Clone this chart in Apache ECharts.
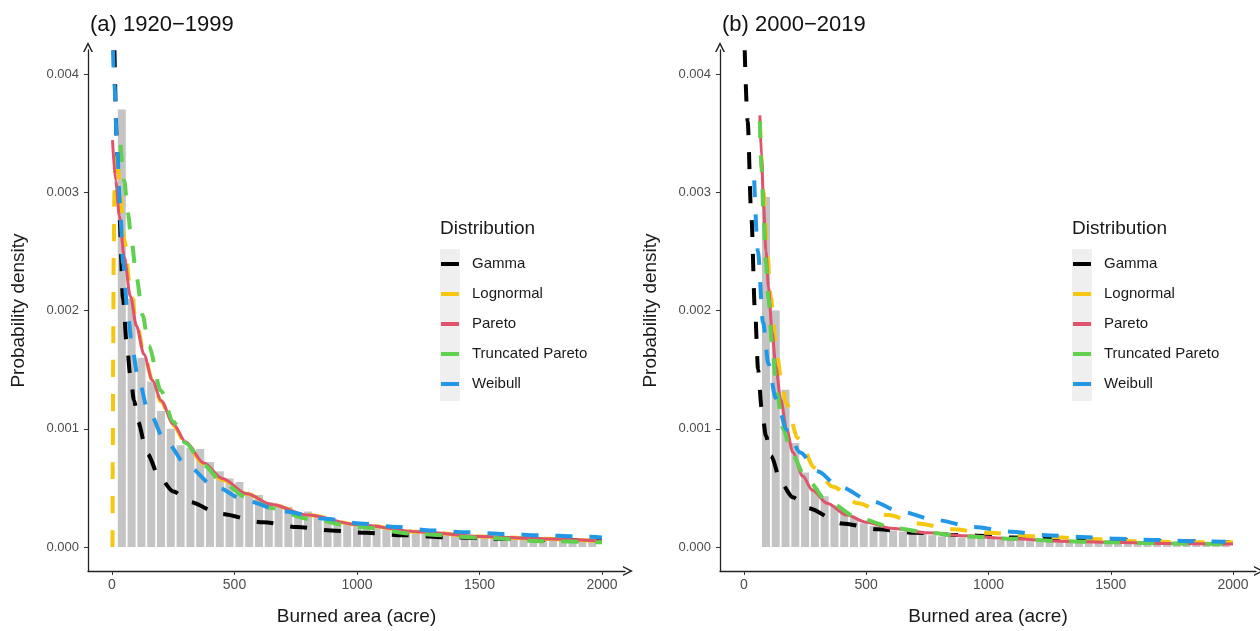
<!DOCTYPE html>
<html>
<head>
<meta charset="utf-8">
<script src="https://cdn.jsdelivr.net/npm/echarts@6/dist/echarts.min.js"></script>
<style>
  html, body { margin: 0; padding: 0; background: #fff; }
  #chart { width: 1260px; height: 631px; }
</style>
</head>
<body>
<div id="chart"></div>
<script>
// histogram bin centres (acre) and densities
const binsA = [40, 80, 120, 160, 200, 240, 280, 320, 360, 400, 440, 480, 520, 560, 600, 640, 680, 720, 760, 800,
  840, 880, 920, 960, 1000, 1040, 1080, 1120, 1160, 1200, 1240, 1280, 1320, 1360, 1400, 1440, 1480, 1520, 1560, 1600,
  1640, 1680, 1720, 1760, 1800, 1840, 1880, 1920, 1960];
const histA = [0.0037, 0.0021, 0.0016, 0.0014, 0.00115, 0.0010, 0.00086, 0.00084, 0.00083, 0.00072,
  0.00064, 0.00058, 0.00055, 0.00046, 0.00044, 0.00038, 0.00036, 0.00034, 0.00027, 0.0003,
  0.00025, 0.00024, 0.00022, 0.0002, 0.00019, 0.00017, 0.00016, 0.00015, 0.00014, 0.00013,
  0.00012, 0.00012, 0.00011, 0.0001, 0.0001, 0.00009, 0.00009, 0.00008, 0.00008, 0.00007,
  0.00007, 0.00007, 0.00006, 0.00006, 0.00006, 0.00005, 0.00005, 0.00005, 0.00005];
const binsB = [90, 130, 170, 210, 250, 290, 330, 370, 410, 450, 490, 530, 570, 610, 650, 690, 730, 770, 810, 850,
  890, 930, 970, 1010, 1050, 1090, 1130, 1170, 1210, 1250, 1290, 1330, 1370, 1410, 1450, 1490, 1530, 1570, 1610, 1650,
  1690, 1730, 1770, 1810, 1850, 1890, 1930, 1970];
const histB = [0.00296, 0.0020, 0.00133, 0.00088, 0.00063, 0.0005, 0.00043, 0.00035, 0.0003, 0.00025,
  0.0002, 0.00018, 0.00016, 0.00014, 0.00013, 0.00012, 0.00011, 0.0001, 0.00009, 0.00009,
  0.00008, 0.00008, 0.00007, 0.00007, 0.00006, 0.00006, 0.00006, 0.00005, 0.00005, 0.00005,
  0.00005, 0.00004, 0.00004, 0.00004, 0.00004, 0.00004, 0.00003, 0.00003, 0.00003, 0.00003,
  0.00003, 0.00003, 0.00003, 0.00002, 0.00002, 0.00002, 0.00002, 0.00002];

// fitted densities, panel (a) 1920-1999, [acre, density]
const gammaA = [[10, 0.0042], [20, 0.0034], [30, 0.0028], [45, 0.0021], [60, 0.00172], [75, 0.00145], [90, 0.00124],
  [106, 0.00106], [143, 0.00079], [196, 0.00058], [250, 0.00047], [318, 0.00038], [441, 0.00028], [616, 0.00021],
  [755, 0.00017], [894, 0.00014], [1041, 0.00012], [1188, 0.0001], [1400, 0.00008], [1600, 0.00007], [1800, 0.00006],
  [2000, 0.00005]];
const lognormA = [[2, 0], [3, 0.0007], [5, 0.0017], [7, 0.0025], [10, 0.003], [14, 0.0033], [20, 0.00335], [30, 0.0031],
  [50, 0.0026], [75, 0.00218], [100, 0.0019], [130, 0.00164], [165, 0.00141], [200, 0.00123], [250, 0.00103],
  [300, 0.00088], [375, 0.0007], [450, 0.00057], [550, 0.00045], [650, 0.00036], [800, 0.00027], [1000, 0.00019],
  [1250, 0.00013], [1500, 0.00009], [1750, 0.00007], [2000, 0.00005]];
const paretoA = [[2, 0.00344], [15, 0.0031], [30, 0.0028], [50, 0.00245], [75, 0.00212], [100, 0.00187], [130, 0.00163],
  [165, 0.00141], [200, 0.00124], [250, 0.00104], [300, 0.00089], [375, 0.00071], [450, 0.00058], [550, 0.00045],
  [650, 0.00036], [800, 0.00027], [1000, 0.00019], [1250, 0.00013], [1500, 0.00009], [1750, 0.00007], [2000, 0.00005]];
const truncA = [[35, 0.0034], [50, 0.0031], [65, 0.00282], [80, 0.00258], [100, 0.00228], [125, 0.00196], [150, 0.0017],
  [200, 0.00132], [250, 0.00106], [300, 0.00088], [375, 0.00069], [450, 0.00055], [550, 0.00042], [650, 0.00033],
  [800, 0.00024], [1000, 0.00017], [1250, 0.00011], [1500, 0.00008], [1750, 0.00005], [2000, 0.00004]];
const weibullA = [[4, 0.0042], [10, 0.0039], [20, 0.0034], [33, 0.0029], [45, 0.0024], [65, 0.00195], [85, 0.00165],
  [106, 0.00143], [150, 0.00114], [220, 0.00089], [310, 0.00068], [420, 0.00051], [550, 0.00039], [700, 0.0003],
  [870, 0.00024], [1010, 0.0002], [1160, 0.00017], [1310, 0.00014], [1450, 0.000125], [1600, 0.00011], [1750, 0.0001],
  [1900, 0.00009], [2000, 0.00008]];

// fitted densities, panel (b) 2000-2019
const gammaB = [[3, 0.0042], [15, 0.0036], [30, 0.0028], [45, 0.002], [58, 0.0015], [72, 0.00118], [90, 0.00094],
  [110, 0.00077], [155, 0.00053], [200, 0.00042], [260, 0.00033], [400, 0.0002], [550, 0.00015], [700, 0.00012],
  [900, 0.0001], [1100, 0.00008], [1300, 0.00007], [1500, 0.00006], [1700, 0.00005], [2000, 0.00004]];
const lognormB = [[65, 0.0036], [80, 0.003], [95, 0.0025], [110, 0.00211], [130, 0.00172], [150, 0.00145], [172, 0.00122],
  [221, 0.00092], [290, 0.00067], [364, 0.00051], [466, 0.00037], [589, 0.00027], [712, 0.0002], [850, 0.00015],
  [1000, 0.00012], [1200, 0.00009], [1400, 0.00007], [1600, 0.00005], [1800, 0.00004], [2000, 0.00004]];
const paretoB = [[65, 0.00365], [72, 0.0033], [80, 0.0029], [90, 0.0025], [100, 0.0022], [115, 0.00182], [130, 0.00153],
  [150, 0.00125], [175, 0.00099], [200, 0.0008], [240, 0.0006], [280, 0.00048], [340, 0.00037], [420, 0.00027],
  [500, 0.00021], [600, 0.00016], [750, 0.00012], [900, 0.000095], [1100, 0.00007], [1300, 0.00005], [1500, 0.00004],
  [1750, 0.00003], [2000, 0.000025]];
const truncB = [[65, 0.0036], [72, 0.0032], [80, 0.0028], [90, 0.0024], [100, 0.0021], [115, 0.0017], [135, 0.0013],
  [160, 0.001], [196, 0.00078], [258, 0.00057], [344, 0.00038], [474, 0.00024], [618, 0.00016], [760, 0.00012],
  [900, 0.00009], [1100, 0.00007], [1300, 0.00005], [1500, 0.00004], [1750, 0.00003], [2000, 0.000025]];
const weibullB = [[42, 0.0031], [57, 0.0025], [78, 0.0019], [100, 0.00155], [130, 0.00126], [176, 0.00099], [230, 0.0008],
  [300, 0.00064], [390, 0.00051], [520, 0.00039], [640, 0.0003], [780, 0.00023], [940, 0.00017], [1090, 0.00013],
  [1235, 0.0001], [1380, 0.000085], [1530, 0.00007], [1680, 0.00006], [1820, 0.00005], [1970, 0.000045]];

const distNames = ["Gamma", "Lognormal", "Pareto", "Truncated Pareto", "Weibull"];
const distColors = ["#000000", "#F5C710", "#DF536B", "#61D04F", "#2297E6"];
const xTicks = [0, 500, 1000, 1500, 2000];
const yTicks = [0, 0.001, 0.002, 0.003, 0.004];

const font = "'Liberation Sans', Arial, Helvetica, sans-serif";
const arrow = "path://M0,10 L5,0 L10,10 L8.4,10 L5,3.2 L1.6,10 Z";

const chart = echarts.init(document.getElementById("chart"));

function xAxisFor(idx) {
  return {
    type: "value", gridIndex: idx, min: -98, max: 2094,
    name: "Burned area (acre)", nameLocation: "middle", nameGap: 36,
    nameTextStyle: { fontFamily: font, fontSize: 19, color: "#1a1a1a" },
    axisLine: { onZero: false, symbol: ["none", arrow], symbolSize: [12, 10], symbolOffset: [0, 3],
      lineStyle: { color: "#222", width: 1.3 } },
    axisTick: { show: true, length: 4, customValues: xTicks, lineStyle: { color: "#333" } },
    axisLabel: { customValues: xTicks, margin: 7, fontFamily: font, fontSize: 14, color: "#4d4d4d",
      formatter: v => String(v) },
    splitLine: { show: false }
  };
}
function yAxisFor(idx) {
  return {
    type: "value", gridIndex: idx, min: -0.0002025, max: 0.0042025,
    name: "Probability density", nameLocation: "middle", nameGap: 60,
    nameTextStyle: { fontFamily: font, fontSize: 19, color: "#1a1a1a" },
    axisLine: { onZero: false, symbol: ["none", arrow], symbolSize: [12, 10], symbolOffset: [0, 3],
      lineStyle: { color: "#222", width: 1.3 } },
    axisTick: { show: true, length: 4, customValues: yTicks, lineStyle: { color: "#333" } },
    axisLabel: { customValues: yTicks, margin: 9, fontFamily: font, fontSize: 13, color: "#4d4d4d",
      formatter: v => v.toFixed(3) },
    splitLine: { show: false }
  };
}

function bars(idx, bins, vals) {
  return {
    type: "bar", xAxisIndex: idx, yAxisIndex: idx, barWidth: 8,
    itemStyle: { color: "#c4c4c4" }, silent: true,
    data: bins.map((b, i) => [b, vals[i]])
  };
}
function curve(idx, k, pts) {
  const solid = distNames[k] === "Pareto";
  return {
    name: distNames[k], type: "line", xAxisIndex: idx, yAxisIndex: idx,
    showSymbol: false, symbol: "none", smooth: 0.3, smoothMonotone: "x", silent: true,
    itemStyle: { color: distColors[k] },
    lineStyle: { color: distColors[k], width: solid ? 3 : 4, type: solid ? "solid" : [17, 17], cap: "butt" },
    data: pts
  };
}

function legendFor(left) {
  return {
    orient: "vertical", left: left, top: 256, padding: 0, icon: "rect",
    itemWidth: 18, itemHeight: 4, itemGap: 14, selectedMode: false,
    data: distNames,
    textStyle: { fontFamily: font, fontSize: 15, lineHeight: 16, color: "#1a1a1a", padding: [0, 0, 0, 8] }
  };
}

const option = {
  animation: false,
  backgroundColor: "#ffffff",
  title: [
    { text: "(a) 1920\u22121999", left: 85, top: 9, textStyle: { fontFamily: font, fontSize: 22, fontWeight: "normal", color: "#111" } },
    { text: "(b) 2000\u22122019", left: 717, top: 9, textStyle: { fontFamily: font, fontSize: 22, fontWeight: "normal", color: "#111" } }
  ],
  grid: [
    { left: 88, top: 50, width: 537, height: 522 },
    { left: 720, top: 50, width: 536, height: 522 }
  ],
  xAxis: [xAxisFor(0), xAxisFor(1)],
  yAxis: [yAxisFor(0), yAxisFor(1)],
  legend: [legendFor(441), legendFor(1073)],
  graphic: [
    { type: "rect", left: 440, top: 249, shape: { width: 20, height: 152 }, style: { fill: "#efefef" }, z: -1 },
    { type: "rect", left: 1072, top: 249, shape: { width: 20, height: 152 }, style: { fill: "#efefef" }, z: -1 },
    { type: "text", left: 440, top: 219, style: { text: "Distribution", fontFamily: font, fontSize: 19, fill: "#1a1a1a" } },
    { type: "text", left: 1072, top: 219, style: { text: "Distribution", fontFamily: font, fontSize: 19, fill: "#1a1a1a" } }
  ],
  series: [
    bars(0, binsA, histA),
    curve(0, 0, gammaA), curve(0, 1, lognormA), curve(0, 2, paretoA), curve(0, 3, truncA), curve(0, 4, weibullA),
    bars(1, binsB, histB),
    curve(1, 0, gammaB), curve(1, 1, lognormB), curve(1, 2, paretoB), curve(1, 3, truncB), curve(1, 4, weibullB)
  ]
};
chart.setOption(option);
</script>
</body>
</html>
